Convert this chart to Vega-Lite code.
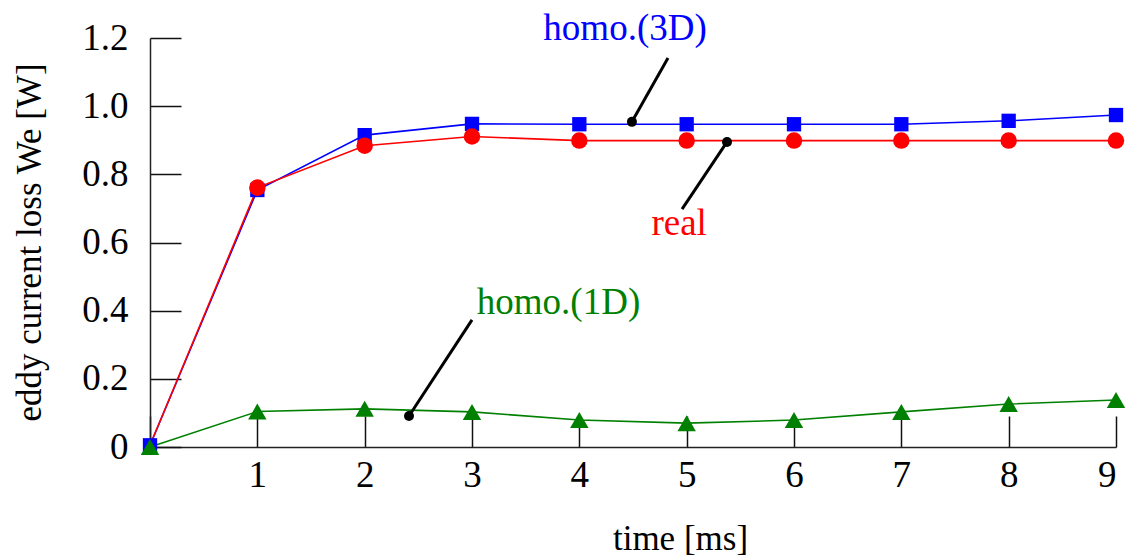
{
  "$schema": "https://vega.github.io/schema/vega-lite/v6.json",
  "width": 966,
  "height": 409,
  "autosize": {"type": "none"},
  "padding": {"left": 150, "top": 38, "right": 15, "bottom": 109},
  "background": "white",
  "config": {
    "view": {"stroke": null},
    "font": "Liberation Serif"
  },
  "datasets": {
    "series": [
      {"time": 0, "loss": 0.005, "series": "homo.(3D)"},
      {"time": 1, "loss": 0.754, "series": "homo.(3D)"},
      {"time": 2, "loss": 0.915, "series": "homo.(3D)"},
      {"time": 3, "loss": 0.948, "series": "homo.(3D)"},
      {"time": 4, "loss": 0.947, "series": "homo.(3D)"},
      {"time": 5, "loss": 0.947, "series": "homo.(3D)"},
      {"time": 6, "loss": 0.947, "series": "homo.(3D)"},
      {"time": 7, "loss": 0.947, "series": "homo.(3D)"},
      {"time": 8, "loss": 0.957, "series": "homo.(3D)"},
      {"time": 9, "loss": 0.974, "series": "homo.(3D)"},
      {"time": 0, "loss": 0.005, "series": "real"},
      {"time": 1, "loss": 0.761, "series": "real"},
      {"time": 2, "loss": 0.884, "series": "real"},
      {"time": 3, "loss": 0.911, "series": "real"},
      {"time": 4, "loss": 0.899, "series": "real"},
      {"time": 5, "loss": 0.899, "series": "real"},
      {"time": 6, "loss": 0.899, "series": "real"},
      {"time": 7, "loss": 0.899, "series": "real"},
      {"time": 8, "loss": 0.899, "series": "real"},
      {"time": 9, "loss": 0.899, "series": "real"},
      {"time": 0, "loss": 0.0, "series": "homo.(1D)"},
      {"time": 1, "loss": 0.104, "series": "homo.(1D)"},
      {"time": 2, "loss": 0.112, "series": "homo.(1D)"},
      {"time": 3, "loss": 0.103, "series": "homo.(1D)"},
      {"time": 4, "loss": 0.079, "series": "homo.(1D)"},
      {"time": 5, "loss": 0.07, "series": "homo.(1D)"},
      {"time": 6, "loss": 0.079, "series": "homo.(1D)"},
      {"time": 7, "loss": 0.103, "series": "homo.(1D)"},
      {"time": 8, "loss": 0.126, "series": "homo.(1D)"},
      {"time": 9, "loss": 0.138, "series": "homo.(1D)"}
    ],
    "notes": [
      {"series": "homo.(3D)", "tx": 4.426, "ty": 1.194, "lx": 4.826, "ly": 1.141, "dx": 4.49, "dy": 0.954},
      {"series": "real", "tx": 4.93, "ty": 0.622, "lx": 4.957, "ly": 0.698, "dx": 5.376, "dy": 0.895},
      {"series": "homo.(1D)", "tx": 3.806, "ty": 0.39, "lx": 3.0, "ly": 0.373, "dx": 2.413, "dy": 0.091}
    ]
  },
  "layer": [
    {
      "data": {"name": "series"},
      "mark": {"type": "line", "strokeWidth": 1.6},
      "encoding": {
        "x": {
          "field": "time", "type": "quantitative",
          "scale": {"domain": [0, 9], "nice": false, "zero": false},
          "axis": {
            "values": [0, 1, 2, 3, 4, 5, 6, 7, 8, 9],
            "labelExpr": "datum.value == 0 ? '' : format(datum.value, 'd')",
            "grid": false,
            "domainColor": "#222", "domainWidth": 1.5,
            "tickColor": "#111", "tickWidth": 1.5, "tickSize": -31,
            "labelFont": "Liberation Serif", "labelFontSize": 37, "labelColor": "black",
            "labelPadding": 41,
            "title": "time [ms]",
            "titleFont": "Liberation Serif", "titleFontSize": 35, "titleFontWeight": "normal", "titleColor": "black",
            "titleX": 530, "titleY": 102, "titleBaseline": "alphabetic", "titleAlign": "center"
          }
        },
        "y": {
          "field": "loss", "type": "quantitative",
          "scale": {"domain": [0, 1.2], "nice": false},
          "axis": {
            "values": [0, 0.2, 0.4, 0.6, 0.8, 1.0, 1.2],
            "labelExpr": "datum.value == 0 ? '0' : format(datum.value, '.1f')",
            "grid": false,
            "domainColor": "#222", "domainWidth": 1.5,
            "tickColor": "#111", "tickWidth": 1.5, "tickSize": -31,
            "labelFont": "Liberation Serif", "labelFontSize": 37, "labelColor": "black",
            "labelPadding": 53,
            "title": "eddy current  loss We [W]",
            "titleFont": "Liberation Serif", "titleFontSize": 35, "titleFontWeight": "normal", "titleColor": "black",
            "titleAngle": 270, "titleX": -110, "titleY": 204, "titleBaseline": "alphabetic", "titleAlign": "center"
          }
        },
        "color": {
          "field": "series", "type": "nominal",
          "scale": {"domain": ["homo.(3D)", "real", "homo.(1D)"], "range": ["#0000ff", "#ff0000", "#008000"]},
          "legend": null
        },
        "detail": {"field": "series"}
      }
    },
    {
      "data": {"name": "series"},
      "transform": [{"filter": "!(datum.series == 'real' && datum.time == 0)"}],
      "mark": {"type": "point", "filled": true, "opacity": 1, "strokeWidth": 0},
      "encoding": {
        "x": {"field": "time", "type": "quantitative"},
        "y": {"field": "loss", "type": "quantitative"},
        "color": {"field": "series", "type": "nominal", "legend": null},
        "shape": {
          "field": "series", "type": "nominal",
          "scale": {"domain": ["homo.(3D)", "real", "homo.(1D)"], "range": ["square", "circle", "triangle-up"]},
          "legend": null
        },
        "size": {
          "field": "series", "type": "nominal",
          "scale": {"domain": ["homo.(3D)", "real", "homo.(1D)"], "range": [205, 340, 340]},
          "legend": null
        }
      }
    },
    {
      "data": {"name": "notes"},
      "mark": {"type": "rule", "color": "black", "strokeWidth": 3},
      "encoding": {
        "x": {"field": "lx", "type": "quantitative"},
        "y": {"field": "ly", "type": "quantitative"},
        "x2": {"field": "dx"},
        "y2": {"field": "dy"}
      }
    },
    {
      "data": {"name": "notes"},
      "mark": {"type": "point", "shape": "circle", "filled": true, "color": "black", "opacity": 1, "size": 100},
      "encoding": {
        "x": {"field": "dx", "type": "quantitative"},
        "y": {"field": "dy", "type": "quantitative"}
      }
    },
    {
      "data": {"name": "notes"},
      "mark": {"type": "text", "font": "Liberation Serif", "fontSize": 37, "align": "center", "baseline": "alphabetic", "clip": false},
      "encoding": {
        "x": {"field": "tx", "type": "quantitative"},
        "y": {"field": "ty", "type": "quantitative"},
        "text": {"field": "series"},
        "color": {"field": "series", "type": "nominal", "legend": null}
      }
    }
  ]
}
